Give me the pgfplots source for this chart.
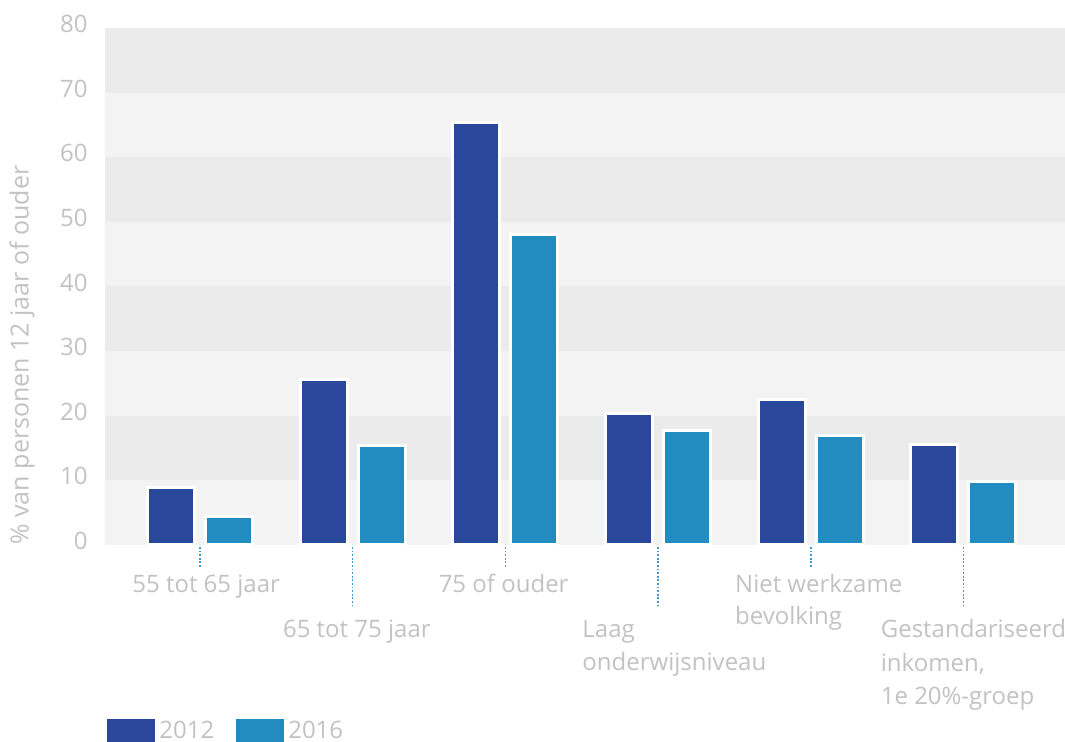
\documentclass[border=0pt]{standalone}
\usepackage{fontspec}
\setmainfont{Open Sans}
\usepackage{pgfplots}
\pgfplotsset{compat=1.18}
\definecolor{cA}{HTML}{2B479B}
\definecolor{cB}{HTML}{228BBF}
\definecolor{txt}{HTML}{C2C2C2}
\definecolor{bandD}{HTML}{EBEBEB}
\definecolor{bandL}{HTML}{F3F3F3}
\definecolor{lead}{HTML}{3B9AD6}
\newcommand{\lf}{\fontsize{12}{14}\selectfont}
\tikzset{leader/.style={lead, line width=0.8pt, dash pattern=on 0.9pt off 0.9pt}}
\begin{document}
\begin{tikzpicture}
\begin{axis}[
  scale only axis, width=480pt, height=258.5pt,
  xmin=-0.622, xmax=5.665, ymin=0, ymax=80,
  ytick={0,10,...,80}, xtick=\empty,
  axis line style={draw=none}, major tick length=0pt,
  /pgf/number format/assume math mode=true,
  yticklabel style={font=\lf, text=txt, inner sep=0pt, xshift=-8.5pt, yshift=2pt},
  axis background/.style={fill=bandL},
  clip=false,
  legend columns=2,
  legend style={draw=none, fill=none, at={(rel axis cs:0,0)}, anchor=north west,
    xshift=1pt, yshift=-86pt, font=\lf, text=txt, inner sep=0pt,
    /tikz/every even column/.append style={column sep=9pt}},
  legend cell align=left,
]
\fill[bandD] (axis cs:-0.622,10) rectangle (axis cs:5.665,20);
\fill[bandD] (axis cs:-0.622,30) rectangle (axis cs:5.665,40);
\fill[bandD] (axis cs:-0.622,50) rectangle (axis cs:5.665,60);
\fill[bandD] (axis cs:-0.622,70) rectangle (axis cs:5.665,80);

\addplot[ybar, bar width=0.308, bar shift=-0.19, fill=cA, draw=white, line width=1.5pt,
  legend image code/.code={\fill[cA] (0pt,-8pt) rectangle (22.5pt,5.6pt);}]
  coordinates {(0,8.9) (1,25.6) (2,65.3) (3,20.3) (4,22.5) (5,15.5)};
\addlegendentry{2012}
\addplot[ybar, bar width=0.308, bar shift=0.19, fill=cB, draw=white, line width=1.5pt,
  legend image code/.code={\fill[cB] (0pt,-8pt) rectangle (22.5pt,5.6pt);}]
  coordinates {(0,4.4) (1,15.4) (2,48.0) (3,17.7) (4,16.9) (5,9.8)};
\addlegendentry{2016}

% leader lines
\draw[leader] ([yshift=-1pt]axis cs:0,0) -- ([yshift=-11pt]axis cs:0,0);
\draw[leader] ([yshift=-1pt]axis cs:1,0) -- ([yshift=-31.5pt]axis cs:1,0);
\draw[leader] ([yshift=-1pt]axis cs:2,0) -- ([yshift=-11pt]axis cs:2,0);
\draw[leader] ([yshift=-1pt]axis cs:3,0) -- ([yshift=-31.5pt]axis cs:3,0);
\draw[leader] ([yshift=-1pt]axis cs:4,0) -- ([yshift=-11pt]axis cs:4,0);
\draw[leader] ([yshift=-1pt]axis cs:5,0) -- ([yshift=-31.5pt]axis cs:5,0);
% category labels
\begin{scope}[every node/.style={font=\lf, text=txt, inner sep=0pt, anchor=base west}]
\node at ([xshift=-34pt, yshift=-24pt]axis cs:0,0) {55 tot 65 jaar};
\node at ([xshift=-35pt, yshift=-46.5pt]axis cs:1,0) {65 tot 75 jaar};
\node at ([xshift=-33.5pt, yshift=-24pt]axis cs:2,0) {75 of ouder};
\node at ([xshift=-38pt, yshift=-46.5pt]axis cs:3,0) {Laag};
\node at ([xshift=-38pt, yshift=-63pt]axis cs:3,0) {onderwijsniveau};
\node at ([xshift=-38pt, yshift=-24pt]axis cs:4,0) {Niet werkzame};
\node at ([xshift=-38pt, yshift=-40pt]axis cs:4,0) {bevolking};
\node at ([xshift=-41.5pt, yshift=-46.5pt]axis cs:5,0) {Gestandariseerd};
\node at ([xshift=-41.5pt, yshift=-63.2pt]axis cs:5,0) {inkomen,};
\node at ([xshift=-41.5pt, yshift=-80pt]axis cs:5,0) {1e 20\%-groep};
\end{scope}
\node[rotate=90, anchor=west, font=\fontsize{12.5}{14}\selectfont, text=txt, inner sep=0pt]
  at ([xshift=-41.5pt]rel axis cs:0,0) {\% van personen 12 jaar of ouder};
\end{axis}
\pgfresetboundingbox
\path[use as bounding box] (-52.5pt,-98.5pt) rectangle (480pt,272.5pt);
\end{tikzpicture}
\end{document}
